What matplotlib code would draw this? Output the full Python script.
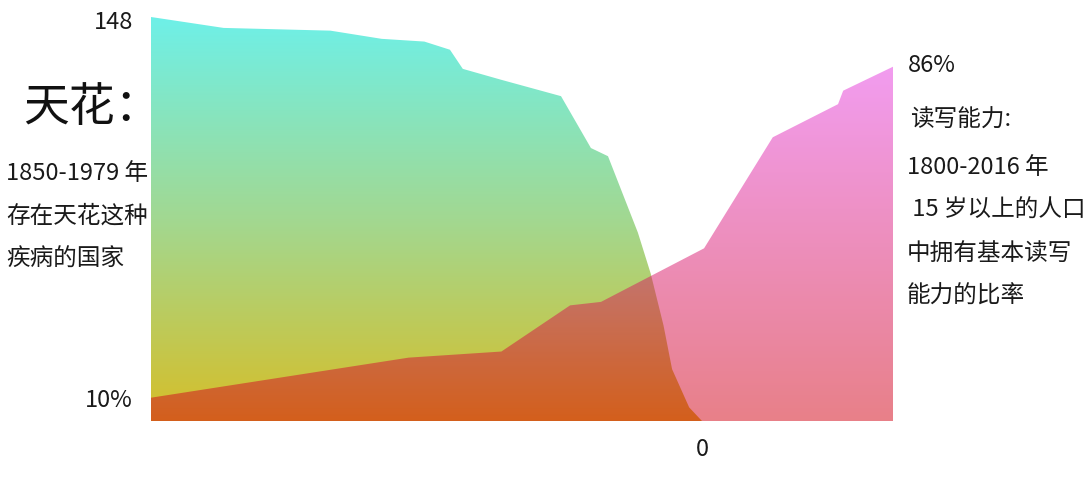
import numpy as np
import matplotlib.pyplot as plt
import matplotlib.transforms as mtransforms
from matplotlib.colors import LinearSegmentedColormap

plt.rcParams['font.family'] = ['Noto Sans CJK SC', 'DejaVu Sans']

# 存在天花的国家数量 (1850-1979)
smallpox_years = [1850, 1867, 1892, 1904, 1914, 1920, 1923, 1932, 1946, 1953,
                  1957, 1964, 1967, 1970, 1972, 1976, 1979]
smallpox_countries = [148, 144, 143, 140, 139, 136, 129, 125, 119, 100,
                      97, 69, 54, 35, 19, 5, 0]

# 15 岁以上人口的基本读写能力比率 (%) (1800-2016)
literacy_years = [1800, 1875, 1902, 1922, 1931, 1961, 1981, 2000, 2001.5, 2016]
literacy_rate = [10, 19.2, 20.6, 31.2, 32.0, 44.3, 69.8, 77.4, 80.5, 86]

left_lines = ['1850-1979 年', '存在天花这种', '疾病的国家']
right_lines = ['1800-2016 年', ' 15 岁以上的人口', '中拥有基本读写', '能力的比率']

W, H = 1087, 484


def px(x, y):
    # pixel position (from top-left) -> figure fraction
    return x / W, 1 - y / H


def gradient_area(ax, x, y, y0, y1, colors, alpha=1.0, zorder=1):
    poly = ax.fill_between(x, y, y0, facecolor='none', edgecolor='none')
    cmap = LinearSegmentedColormap.from_list('grad', colors)
    grad = np.linspace(0, 1, 256).reshape(-1, 1)
    img = ax.imshow(grad, cmap=cmap, aspect='auto', origin='upper',
                    extent=[x[0], x[-1], y0, y1], alpha=alpha, zorder=zorder,
                    interpolation='bilinear')
    img.set_clip_path(poly.get_paths()[0], transform=ax.transData)
    return img


fig = plt.figure(figsize=(W / 100, H / 100), dpi=100)
rect = [151 / W, 63 / H, 742 / W, 404 / H]
ax1 = fig.add_axes(rect)
ax2 = fig.add_axes(rect)

# smallpox (behind)
gradient_area(ax1, smallpox_years, smallpox_countries, 0, max(smallpox_countries),
              ['#6ef0e8', '#a2d891', '#d6be28'])
ax1.set_xlim(1850, 1850 + 742 / 4.271)
ax1.set_ylim(0, 148)

# literacy (on top, translucent)
lit_bottom = 4.65
gradient_area(ax2, literacy_years, literacy_rate, lit_bottom, max(literacy_rate),
              ['#e539e1', '#d10011'], alpha=0.5, zorder=2)
ax2.set_xlim(1800, 2016)
ax2.set_ylim(lit_bottom, lit_bottom + 404 / 4.355)

for ax in (ax1, ax2):
    ax.set_facecolor('none')
    for s in ax.spines.values():
        s.set_visible(False)
    ax.tick_params(length=0, labelsize=17, colors='#1a1a1a')

ax1.set_yticks([smallpox_countries[0]], [str(smallpox_countries[0])])
ax1.set_xticks([smallpox_years[-1]], [str(smallpox_countries[-1])])
ax1.tick_params(axis='y', pad=13)
ax1.tick_params(axis='x', pad=12)
shift = mtransforms.ScaledTranslation(0, -3 / 100, fig.dpi_scale_trans)
for lab in ax1.get_yticklabels():
    lab.set_transform(lab.get_transform() + shift)

ax2.set_xticks([])
ax2.set_yticks([literacy_rate[0]], ['%d%%' % literacy_rate[0]])
ax2.tick_params(axis='y', pad=13)
ax2.annotate('%d%%' % literacy_rate[-1], xy=(literacy_years[-1], literacy_rate[-1]),
             xytext=(15, 1), textcoords='offset pixels', ha='left', va='center',
             fontsize=17, color='#1a1a1a', annotation_clip=False)

# titles / descriptions
fig.text(*px(23, 108), '天花：', fontsize=33, va='center', ha='left', color='#111111')
for i, line in enumerate(left_lines):
    fig.text(*px(6, 173 + i * 43), line, fontsize=17, va='center', ha='left',
             color='#1a1a1a')

fig.text(*px(910, 120), '读写能力:', fontsize=17, va='center', ha='left',
         color='#1a1a1a')
for i, line in enumerate(right_lines):
    fig.text(*px(907, 167 + i * 43), line, fontsize=17, va='center', ha='left',
             color='#1a1a1a')

fig.savefig('out.png', dpi=100, facecolor='white')
